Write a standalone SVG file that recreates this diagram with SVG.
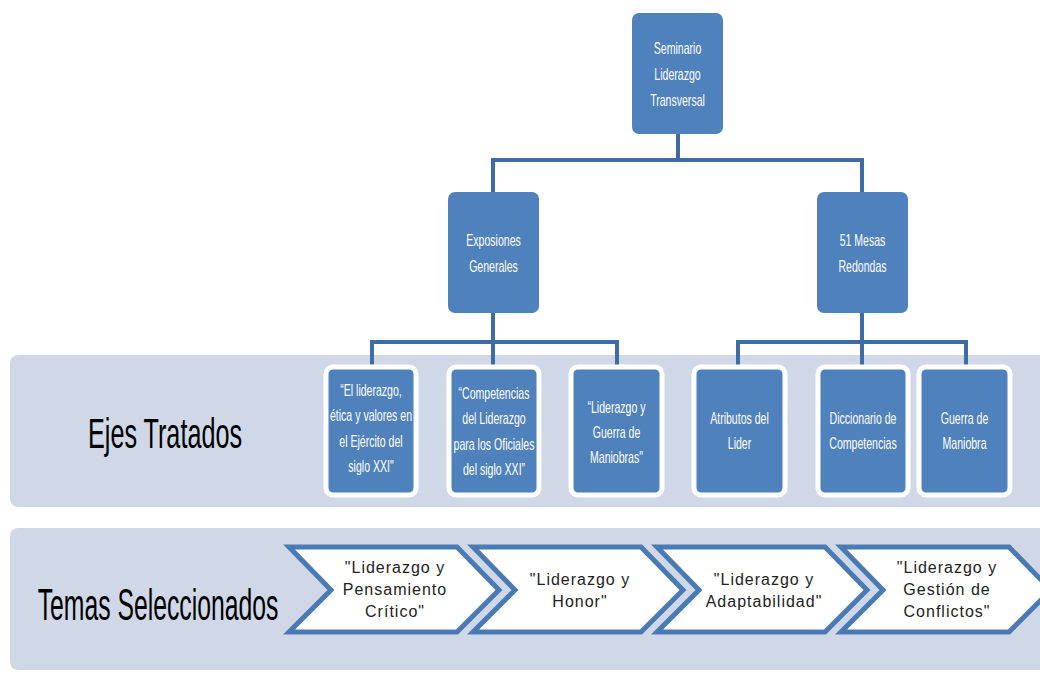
<svg xmlns="http://www.w3.org/2000/svg" width="1040" height="673" viewBox="0 0 1040 673">
<style>
.band{fill:#d0d8e8}
.node{fill:#4f81bd}
.sub{fill:#4f81bd;stroke:#ffffff;stroke-width:5}
.conn{stroke:#3e6da5;stroke-width:4;fill:none}
.t{font-family:"Liberation Sans",Arial,sans-serif;font-size:16px;fill:#ffffff;text-anchor:middle}
.big{font-family:"Liberation Sans",Arial,sans-serif;fill:#000000;text-anchor:middle}
.chev{fill:#ffffff;stroke:#4a7ab4;stroke-width:5;stroke-linejoin:miter}
.ct{font-family:"Liberation Sans",Arial,sans-serif;font-size:16px;fill:#222222;text-anchor:middle;letter-spacing:1px}
</style>
<rect width="1040" height="673" fill="#ffffff"/>
<g id="band-ejes"><rect class="band" x="10" y="355" width="1040" height="152" rx="8"/>
<text class="big" font-size="42" transform="translate(165,0) scale(0.6,1)"><tspan x="0" y="448">Ejes Tratados</tspan></text></g>
<g id="band-temas"><rect class="band" x="10" y="528" width="1040" height="142" rx="8"/>
<text class="big" font-size="45" transform="translate(158,0) scale(0.55,1)"><tspan x="0" y="620">Temas Seleccionados</tspan></text></g>
<g id="connectors">
<path class="conn" d="M678 133V160M493 160H862M493 158V192M862 158V192"/>
<path class="conn" d="M493 313V342M372 342H617M372 340V367M493 340V367M617 340V367"/>
<path class="conn" d="M862 313V342M738 342H966M738 340V367M862 340V367M966 340V367"/>
</g>
<g id="n-seminario"><rect class="node" x="632" y="13" width="91" height="121" rx="7"/>
<text class="t" transform="translate(677.5,0) scale(0.66,1)"><tspan x="0" y="54">Seminario</tspan><tspan x="0" y="80">Liderazgo</tspan><tspan x="0" y="106">Transversal</tspan></text></g>
<g id="n-exposiciones"><rect class="node" x="448" y="192" width="91" height="121" rx="7"/>
<text class="t" transform="translate(493.5,0) scale(0.66,1)"><tspan x="0" y="246">Exposiones</tspan><tspan x="0" y="272">Generales</tspan></text></g>
<g id="n-mesas"><rect class="node" x="817" y="192" width="91" height="121" rx="7"/>
<text class="t" transform="translate(862.5,0) scale(0.66,1)"><tspan x="0" y="246">51 Mesas</tspan><tspan x="0" y="272">Redondas</tspan></text></g>
<g id="n-eje1"><rect class="sub" x="326" y="367" width="90" height="128" rx="7"/>
<text class="t" transform="translate(371,0) scale(0.66,1)"><tspan x="0" y="396">“El liderazgo,</tspan><tspan x="0" y="421">ética y valores en</tspan><tspan x="0" y="447">el Ejército del</tspan><tspan x="0" y="472">siglo XXI"</tspan></text></g>
<g id="n-eje2"><rect class="sub" x="449" y="367" width="90" height="128" rx="7"/>
<text class="t" transform="translate(494,0) scale(0.66,1)"><tspan x="0" y="399">“Competencias</tspan><tspan x="0" y="424">del Liderazgo</tspan><tspan x="0" y="450">para los Oficiales</tspan><tspan x="0" y="475">del siglo XXI”</tspan></text></g>
<g id="n-eje3"><rect class="sub" x="571" y="367" width="91" height="128" rx="7"/>
<text class="t" transform="translate(616.5,0) scale(0.66,1)"><tspan x="0" y="413">“Liderazgo y</tspan><tspan x="0" y="438">Guerra de</tspan><tspan x="0" y="463">Maniobras"</tspan></text></g>
<g id="n-eje4"><rect class="sub" x="694" y="367" width="91" height="128" rx="7"/>
<text class="t" transform="translate(739.5,0) scale(0.66,1)"><tspan x="0" y="424">Atributos del</tspan><tspan x="0" y="449">Lider</tspan></text></g>
<g id="n-eje5"><rect class="sub" x="818" y="367" width="90" height="128" rx="7"/>
<text class="t" transform="translate(863,0) scale(0.66,1)"><tspan x="0" y="424">Diccionario de</tspan><tspan x="0" y="449">Competencias</tspan></text></g>
<g id="n-eje6"><rect class="sub" x="919" y="367" width="91" height="128" rx="7"/>
<text class="t" transform="translate(964.5,0) scale(0.66,1)"><tspan x="0" y="424">Guerra de</tspan><tspan x="0" y="449">Maniobra</tspan></text></g>
<g id="n-tema1"><path class="chev" d="M289 547H457L499 590L457 632H289L331 590Z"/>
<text class="ct"><tspan x="395" y="573">"Liderazgo y</tspan><tspan x="395" y="595">Pensamiento</tspan><tspan x="395" y="617">Crítico"</tspan></text></g>
<g id="n-tema2"><path class="chev" d="M473 547H641L683 590L641 632H473L515 590Z"/>
<text class="ct"><tspan x="580" y="585">"Liderazgo y</tspan><tspan x="580" y="607">Honor"</tspan></text></g>
<g id="n-tema3"><path class="chev" d="M657 547H825L867 590L825 632H657L699 590Z"/>
<text class="ct"><tspan x="764" y="585">"Liderazgo y</tspan><tspan x="764" y="607">Adaptabilidad"</tspan></text></g>
<g id="n-tema4"><path class="chev" d="M841 547H1009L1051 590L1009 632H841L883 590Z"/>
<text class="ct"><tspan x="947" y="573">"Liderazgo y</tspan><tspan x="947" y="595">Gestión de</tspan><tspan x="947" y="617">Conflictos"</tspan></text></g>
</svg>
